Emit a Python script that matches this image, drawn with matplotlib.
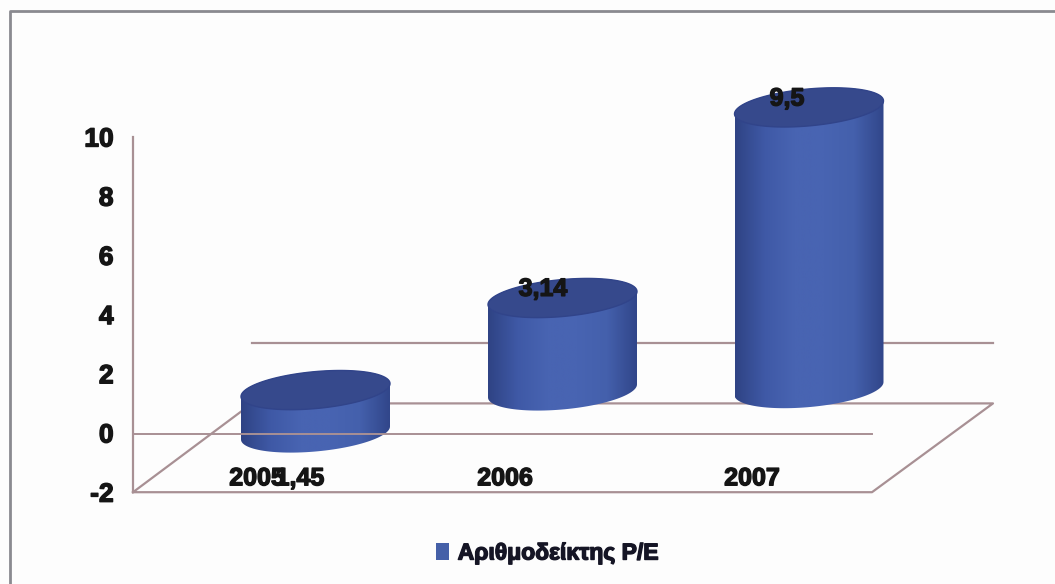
import numpy as np
import matplotlib
matplotlib.use("Agg")
import matplotlib.pyplot as plt
import matplotlib.patheffects as pe
from matplotlib.colors import LinearSegmentedColormap
from matplotlib.patches import Patch, PathPatch, Polygon
from matplotlib.path import Path

years = ["2005", "2006", "2007"]
pe_ratio = [1.45, 3.14, 9.5]
y_ticks = [-2, 0, 2, 4, 6, 8, 10]
legend_label = "Αριθμοδείκτης P/E"

plt.rcParams['font.family'] = ['Liberation Sans', 'DejaVu Sans']
plt.rcParams['axes.unicode_minus'] = False

# layout, x in image pixels, y in chart units
PX = 29.6
centers = [315.5, 562.5, 809]
bases = [0, 1.42, 1.5]
year_x = [257, 505, 752]
value_xy = [(300, -1.53), (543, 4.87), (787, 11.3)]
half_w = 74.5
half_h = 18.5 / PX
tilt = 6.5 / PX
grid_col = "#a89094"
text_style = [pe.withStroke(linewidth=1.0, foreground="#151515")]

fig = plt.figure(figsize=(10.55, 5.84), dpi=100, facecolor="#fdfdfd")
ax = fig.add_axes([0, 0, 1, 1], facecolor="none")
ax.set_xlim(0, 1055)
ax.set_ylim(-151 / PX, 433 / PX)

# outer frame of the scan
ax.plot([10, 10, 1055], [-151 / PX, 422 / PX, 422 / PX], color="#8a8a90", lw=2.0, zorder=1)

# floor and grid lines
ax.plot([133, 252, 993, 872, 133], [-2, 1, 1, -2, -2], color=grid_col, lw=1.6, zorder=2)
ax.plot([252, 993], [3.05, 3.05], color=grid_col, lw=1.6, zorder=2)
ax.plot([133, 872], [-0.04, -0.04], color=grid_col, lw=1.4, zorder=6)

side_cmap = LinearSegmentedColormap.from_list(
    "side", ["#2f4384", "#3f59a6", "#4864b2", "#4864b2", "#4460ac", "#31468a"])
grad = np.linspace(0, 1, 256).reshape(1, -1)


def ellipse(cx, cy, t):
    return np.column_stack([cx + half_w * np.cos(t), cy + half_h * np.sin(t) + tilt * np.cos(t)])


for cx, base, val in zip(centers, bases, pe_ratio):
    top = base + val
    # front of the bottom edge goes from left to right, then back over the top
    lower = ellipse(cx, base, np.linspace(np.pi, 2 * np.pi, 60))
    upper = ellipse(cx, top, np.linspace(0, np.pi, 60))
    outline = np.vstack([lower, upper, lower[:1]])
    side = PathPatch(Path(outline), fc="none", ec="none", transform=ax.transData)
    ax.add_patch(side)
    im = ax.imshow(grad, cmap=side_cmap, aspect="auto", zorder=3,
                   extent=[cx - half_w, cx + half_w, base - half_h - tilt, top + half_h + tilt])
    im.set_clip_path(side)
    ax.add_patch(Polygon(ellipse(cx, top, np.linspace(0, 2 * np.pi, 120)),
                         fc="#36498c", ec="#31448a", lw=1, zorder=4))

ax.set_xlim(0, 1055)
ax.set_ylim(-151 / PX, 433 / PX)

# real y axis, sitting on the left wall
for s in ["top", "right", "bottom"]:
    ax.spines[s].set_visible(False)
ax.spines["left"].set_position(("data", 133))
ax.spines["left"].set_bounds(-2, 10)
ax.spines["left"].set_color(grid_col)
ax.spines["left"].set_linewidth(1.6)
ax.set_xticks([])
ax.set_yticks(y_ticks)
ax.tick_params(axis="y", length=0, pad=14, labelsize=19, labelcolor="#151515")
for lab in ax.get_yticklabels():
    lab.set_fontweight("bold")
    lab.set_path_effects(text_style)

for x, yr in zip(year_x, years):
    ax.text(x, -1.53, yr, ha="center", va="center", fontsize=18, fontweight="bold",
            color="#151515", zorder=7, path_effects=text_style)
for (x, y), val in zip(value_xy, pe_ratio):
    ax.text(x, y, str(val).replace(".", ","), ha="center", va="center", fontsize=18,
            fontweight="bold", color="#151515", zorder=7, path_effects=text_style)

leg = ax.legend(handles=[Patch(fc="#4560a8", label=legend_label)], frameon=False,
                loc="center", bbox_to_anchor=(547 / 1055, 31 / 584),
                handlelength=0.55, handleheight=0.75, handletextpad=0.4,
                prop={"weight": "bold", "size": 16.5})
for t in leg.get_texts():
    t.set_color("#151525")
    t.set_path_effects([pe.withStroke(linewidth=1.0, foreground="#151525")])

fig.savefig("out.png", dpi=100, facecolor=fig.get_facecolor())
